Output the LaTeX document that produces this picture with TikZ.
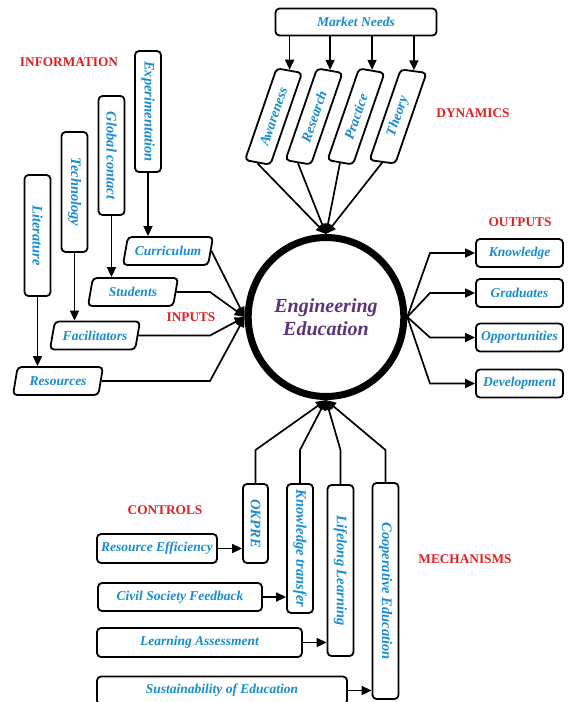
\documentclass[tikz,border=0pt]{standalone}
\usepackage{fontspec}
\setmainfont{Liberation Serif}
\usepackage{xcolor}
\usepackage{tikz}
\usetikzlibrary{arrows.meta, shapes.geometric, calc}

\definecolor{boxblue}{RGB}{22,140,210}
\definecolor{headred}{RGB}{226,32,36}
\definecolor{eepurple}{RGB}{92,52,122}

\begin{document}
\begin{tikzpicture}[x=1pt, y=-1pt,
    box/.style={draw, line width=1.8pt, rounded corners=4pt, text=boxblue, inner sep=1pt,
      font=\fontsize{13.5}{15}\selectfont\bfseries\itshape},
    vbox/.style={box, rotate=-90, minimum height=26pt, font=\fontsize{14.5}{16}\selectfont\bfseries\itshape},
    para/.style={box, trapezium, trapezium left angle=67, trapezium right angle=113,
      trapezium stretches body, inner xsep=-5pt, minimum width=90pt, minimum height=28pt},
    dyn/.style={box, trapezium, rotate=71, trapezium left angle=109, trapezium right angle=71,
      trapezium stretches body, minimum width=101pt, minimum height=25.5pt,
      font=\fontsize{14}{16}\selectfont\bfseries\itshape},
    heading/.style={text=headred, font=\fontsize{13.3}{15}\selectfont\bfseries},
    conn/.style={line width=1.7pt},
    arr/.style={conn, -{Triangle[length=10pt, width=9pt]}}
  ]
  \useasboundingbox[fill=white] (0,0) rectangle (571,702);
  % The core
  \node[ellipse, draw, line width=7pt, minimum width=141pt, minimum height=159pt,
    text=eepurple, align=center, font=\fontsize{20}{23}\selectfont\bfseries\itshape]
    (ee) at (326,317) {Engineering\\Education};
  % Information and inputs
  \node[heading] (info) at (69,62) {INFORMATION};
  \node[heading] (inp) at (191,317) {INPUTS};
  \node[vbox, minimum width=121pt] (lite) at (37.5,235.5) {Literature};
  \node[vbox, minimum width=120pt] (tech) at (74.5,192) {Technology};
  \node[vbox, minimum width=119pt] (glob) at (111.5,155.5) {Global contact};
  \node[vbox, minimum width=121pt] (expe) at (148,111.5) {Experimentation};
  \node[para] (reso) at (58,381) {Resources};
  \node[para] (faci) at (95,335.5) {Facilitators};
  \node[para] (stud) at (133,292) {Students};
  \node[para] (curr) at (168,251) {Curriculum};
  \foreach \i/\p in {lite/reso, tech/faci, glob/stud, expe/curr}
    \draw[arr] (\i.east) -- (\i.east |- \p.north);
  \coordinate (inx) at (210,0);
  \draw[arr] (curr.right side) -- (ee.west);
  \foreach \p in {stud, faci, reso}
    \draw[arr] (\p.right side) -- (\p.right side -| inx) -- (ee.west);
  % Dynamics
  \node[heading] (dyna) at (473,113) {DYNAMICS};
  \node[box, minimum width=161pt, minimum height=27pt] (mark) at (356,22) {Market Needs};
  \node[dyn] (awar) at (273.5,116.5) {Awareness};
  \node[dyn] (rese) at (314,116.5) {Research};
  \node[dyn] (prac) at (356,116.5) {Practice};
  \node[dyn] (theo) at (398,116.5) {Theory};
  \foreach \d in {awar, rese, prac, theo} {
    \draw[arr] (mark.south -| \d.right side) -- (\d.right side);
    \draw[arr] (\d.left side) -- (ee.north);
  }
  % Outputs
  \node[heading] (outp) at (520,222) {OUTPUTS};
  \node[box, minimum width=87pt, minimum height=28pt] (know) at (519.5,253) {Knowledge};
  \node[box, minimum width=87pt, minimum height=28pt] (grad) at (519.5,293) {Graduates};
  \node[box, minimum width=87pt, minimum height=28pt] (oppo) at (519.5,337.5) {Opportunities};
  \node[box, minimum width=87pt, minimum height=28pt] (deve) at (519.5,383.5) {Development};
  \coordinate (outx) at (430,0);
  \foreach \o in {know, grad, oppo, deve}
    \draw[arr] (ee.east) -- (outx |- \o) -- (\o.west);
  % Mechanisms and controls
  \node[heading] (mech) at (465,559) {MECHANISMS};
  \node[heading] (ctrl) at (165,510) {CONTROLS};
  \node[vbox, minimum width=79pt, minimum height=25pt] (okpr) at (255.5,523.5) {OKPRE};
  \node[vbox, minimum width=129pt] (ktra) at (300,548.5) {Knowledge transfer};
  \node[vbox, minimum width=171pt] (life) at (340.5,570.5) {Lifelong Learning};
  \node[vbox, minimum width=216pt] (coop) at (385.5,591) {Cooperative Education};
  \coordinate (mechy) at (0,450);
  \foreach \m in {okpr, ktra, life, coop}
    \draw[arr] (\m.west) -- (\m.west |- mechy) -- (ee.south);
  \node[box, minimum width=120pt, minimum height=29pt] (reff) at (157,548.5) {Resource Efficiency};
  \node[box, minimum width=164pt, minimum height=28pt] (civi) at (180,597) {Civil Society Feedback};
  \node[box, minimum width=205pt, minimum height=29pt] (lass) at (199.5,642.5) {Learning Assessment};
  \node[box, minimum width=250pt, minimum height=28pt] (sust) at (222,690.5) {Sustainability of Education};
  \foreach \c/\m in {reff/okpr, civi/ktra, lass/life, sust/coop}
    \draw[arr] (\c.east) -- (\c.east -| \m.south);
\end{tikzpicture}
\end{document}
